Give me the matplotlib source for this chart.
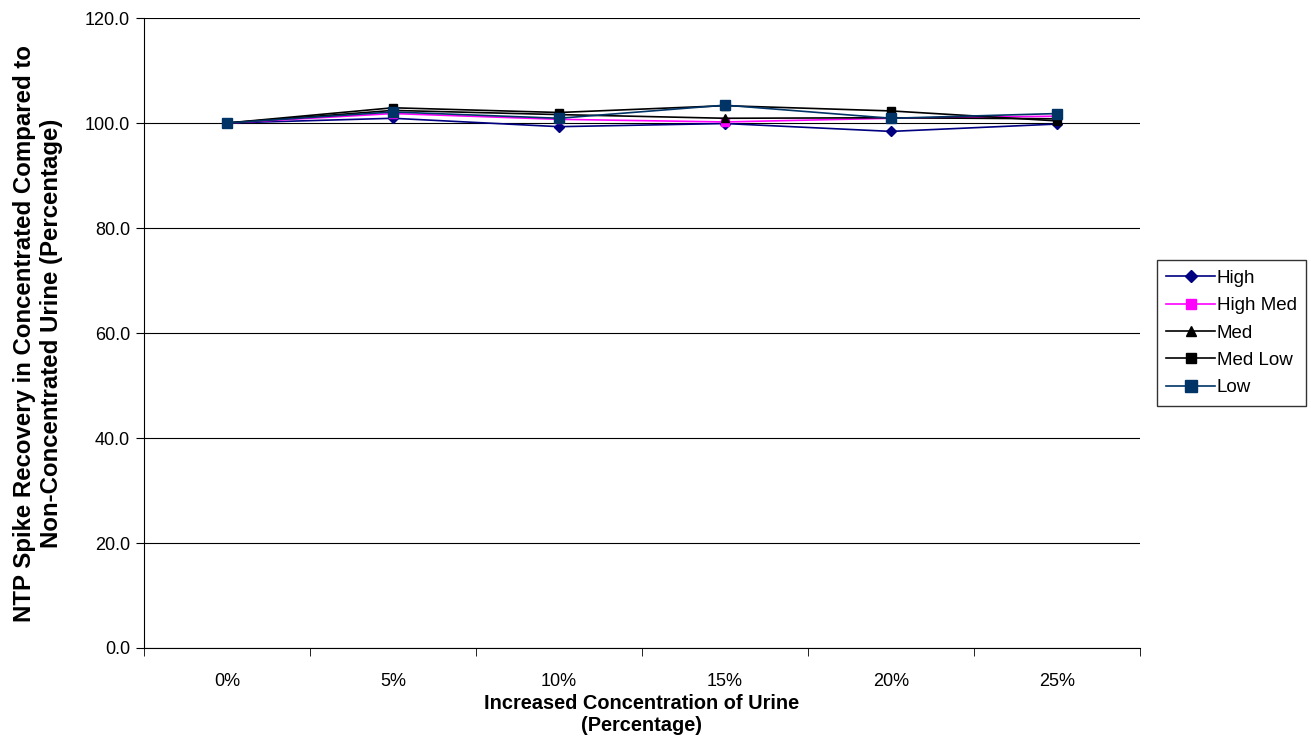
import numpy as np
import matplotlib.pyplot as plt
from matplotlib.ticker import FixedLocator, NullFormatter

plt.rcParams['font.family'] = ['Liberation Sans', 'DejaVu Sans']

categories = ['0%', '5%', '10%', '15%', '20%', '25%']
high = [100.0, 100.9, 99.3, 99.9, 98.4, 99.8]
high_med = [100.0, 101.8, 100.7, 100.2, 100.9, 101.3]
med = [100.0, 102.4, 101.6, 100.9, 101.0, 100.8]
med_low = [100.0, 102.9, 102.0, 103.3, 102.3, 100.4]
low = [100.0, 102.1, 100.9, 103.4, 100.9, 101.8]

series = [
    ('High', high, '#000080', 'D', 5),
    ('High Med', high_med, '#ff00ff', 's', 6),
    ('Med', med, '#000000', '^', 6),
    ('Med Low', med_low, '#000000', 's', 6),
    ('Low', low, '#003366', 's', 7),
]

fig = plt.figure(figsize=(13.11, 7.40), dpi=100, facecolor='white')
ax = fig.add_axes([144/1311, 1 - 648/740, (1140-144)/1311, (648-18)/740])

x = np.arange(len(categories))
for name, vals, col, mk, ms in series:
    ax.plot(x, vals, color=col, marker=mk, markersize=ms, linewidth=1.2,
            markerfacecolor=col, markeredgecolor=col, label=name)

ax.set_xlim(-0.5, len(categories) - 0.5)
ax.set_ylim(0, 120)
ax.set_yticks(np.arange(0, 121, 20))
ax.set_yticklabels(['{:.1f}'.format(v) for v in np.arange(0, 121, 20)], fontsize=13)
ax.set_xticks(x)
ax.set_xticklabels(categories, fontsize=13)
ax.tick_params(axis='x', which='major', length=0, pad=18)
ax.xaxis.set_minor_locator(FixedLocator(np.arange(-0.5, len(categories), 1.0)))
ax.xaxis.set_minor_formatter(NullFormatter())
ax.tick_params(axis='x', which='minor', length=6, direction='out')
ax.tick_params(axis='y', length=6, direction='out', pad=4)
ax.grid(axis='y', color='#000000', linewidth=0.8)
ax.set_axisbelow(True)
for s in ['top', 'right']:
    ax.spines[s].set_visible(False)
ax.spines['left'].set_color('#000000')
ax.spines['bottom'].set_color('#000000')

ax.set_xlabel('Increased Concentration of Urine\n(Percentage)', fontsize=14.4, fontweight='bold', labelpad=3,
              linespacing=1.2)
ax.set_ylabel('NTP Spike Recovery in Concentrated Compared to\nNon-Concentrated Urine (Percentage)',
              fontsize=17.3, fontweight='bold', labelpad=16, linespacing=1.2)

leg = ax.legend(loc='center left', bbox_to_anchor=((1157 - 144) / 996, 0.5), fontsize=13.5,
                frameon=True, fancybox=False, edgecolor='#000000', borderpad=0.5,
                handlelength=2.6, handletextpad=0.1, labelspacing=0.55, borderaxespad=0,
                markerscale=1.2)
leg.get_frame().set_linewidth(1.0)

plt.savefig('out.png', dpi=100, facecolor='white')
